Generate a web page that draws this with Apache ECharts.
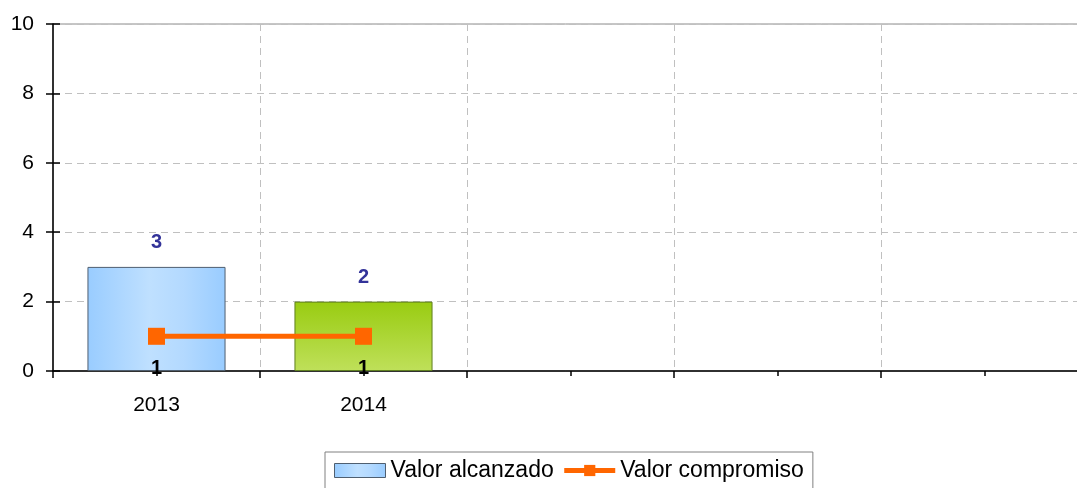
<!DOCTYPE html>
<html>
<head>
<meta charset="utf-8">
<script src="https://cdn.jsdelivr.net/npm/echarts@6/dist/echarts.min.js"></script>
<style>
html,body{margin:0;padding:0;background:#fff;}
#chart{width:1077px;height:488px;}
</style>
</head>
<body>
<div id="chart"></div>
<script>
const categories = ['2013', '2014', '', '', ''];
const alcanzado = [3, 2, null, null, null];
const compromiso = [1, 1, null, null, null];
const yMin = 0, yMax = 10, yInterval = 2;

const FONT = '"Liberation Sans", Arial, sans-serif';

const blueGrad = new echarts.graphic.LinearGradient(0, 0, 1, 0, [
  {offset: 0, color: '#99ccff'},
  {offset: 0.45, color: '#bfe0ff'},
  {offset: 0.7, color: '#b3d9ff'},
  {offset: 1, color: '#99ccff'}
]);
const greenGrad = new echarts.graphic.LinearGradient(0, 0, 0, 1, [
  {offset: 0, color: '#99cc11'},
  {offset: 1, color: '#bfe05a'}
]);
const barColors = [blueGrad, greenGrad];
const barBorders = ['#4f5f70', '#5f7f1f'];

const chart = echarts.init(document.getElementById('chart'), null, {renderer: 'canvas'});

const gridBox = {left: 53, top: 24, width: 1035, height: 347, outerBoundsMode: 'none', containLabel: false};

chart.setOption({
  animation: false,
  textStyle: {fontFamily: FONT},
  grid: [
    Object.assign({show: true, borderColor: '#8c8c8c', borderWidth: 1, backgroundColor: 'transparent'}, gridBox),
    Object.assign({show: false}, gridBox)
  ],
  legend: {
    left: 325,
    top: 452,
    padding: [7, 9, 12, 9],
    borderColor: '#808080',
    borderWidth: 1,
    itemGap: 8,
    itemHeight: 14,
    itemWidth: 51,
    textStyle: {fontFamily: FONT, fontSize: 23, color: '#000'},
    data: [
      {name: 'Valor alcanzado', icon: 'rect', itemStyle: {color: blueGrad, borderColor: '#4f5f70', borderWidth: 1}},
      {name: 'Valor compromiso', lineStyle: {width: 5, color: '#ff6600'}, itemStyle: {color: '#ff6600'}}
    ]
  },
  xAxis: [
    {
      type: 'category',
      gridIndex: 0,
      data: categories,
      boundaryGap: true,
      axisLine: {lineStyle: {color: '#000', width: 1.5}},
      axisTick: {show: true, length: 7, lineStyle: {color: '#000', width: 1.5}},
      axisLabel: {fontFamily: FONT, fontSize: 21, color: '#000', margin: 24, interval: 0},
      splitLine: {show: true, lineStyle: {color: '#c0c0c0', type: [7, 5], width: 1}}
    },
    {
      type: 'category',
      gridIndex: 1,
      data: categories,
      boundaryGap: true,
      axisLine: {show: false},
      axisTick: {show: true, alignWithLabel: true, length: 5, lineStyle: {color: '#000', width: 1.5}},
      axisLabel: {show: false},
      splitLine: {show: false}
    }
  ],
  yAxis: [
    {
      type: 'value',
      gridIndex: 0,
      min: yMin, max: yMax, interval: yInterval,
      axisLine: {show: true, lineStyle: {color: '#000', width: 1.5}},
      axisTick: {show: true, length: 7, lineStyle: {color: '#000', width: 1.5}},
      axisLabel: {fontFamily: FONT, fontSize: 21, color: '#000', margin: 19},
      splitLine: {show: true, lineStyle: {color: '#c0c0c0', type: [7, 5], width: 1}}
    },
    {
      type: 'value',
      gridIndex: 1,
      min: yMin, max: yMax, interval: yInterval,
      axisLine: {show: false},
      axisTick: {show: true, inside: true, length: 7, lineStyle: {color: '#000', width: 1.5}},
      axisLabel: {show: false},
      splitLine: {show: false}
    }
  ],
  series: [
    {
      name: 'Valor alcanzado',
      type: 'bar',
      xAxisIndex: 0, yAxisIndex: 0,
      barCategoryGap: '33.3%',
      data: alcanzado.map((v, i) => ({
        value: v,
        itemStyle: {color: barColors[i] || blueGrad, borderColor: barBorders[i] || '#4f5f70', borderWidth: 1}
      })),
      itemStyle: {color: blueGrad, borderColor: '#4f5f70', borderWidth: 1},
      label: {
        show: true, position: 'top', distance: 14,
        fontFamily: FONT, fontSize: 20, fontWeight: 'bold', color: '#333399'
      },
      z: 2
    },
    {
      name: 'Valor compromiso',
      type: 'line',
      xAxisIndex: 0, yAxisIndex: 0,
      data: compromiso,
      color: '#ff6600',
      lineStyle: {color: '#ff6600', width: 5},
      itemStyle: {color: '#ff6600'},
      symbol: 'rect',
      symbolSize: 17,
      showSymbol: true,
      label: {
        show: true, position: 'bottom', distance: 14,
        fontFamily: FONT, fontSize: 20, fontWeight: 'bold', color: '#000'
      },
      z: 3
    }
  ]
});
</script>
</body>
</html>
